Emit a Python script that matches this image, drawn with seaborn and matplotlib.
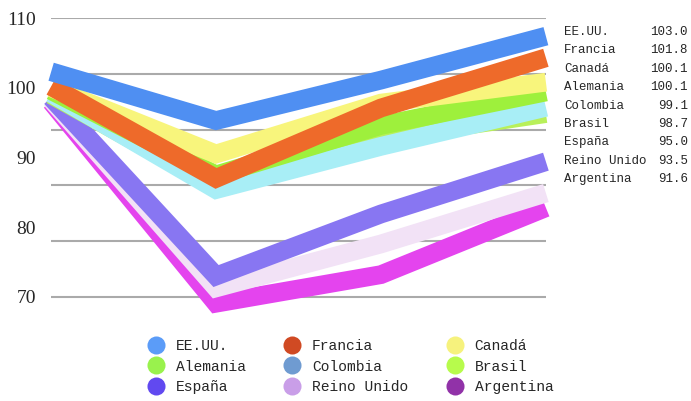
import pandas as pd
import seaborn as sns
import matplotlib.pyplot as plt
from matplotlib.lines import Line2D

countries = ['EE.UU.', 'Francia', 'Canadá', 'Alemania', 'Colombia', 'Brasil',
             'España', 'Reino Unido', 'Argentina']
periods = [0, 1, 2, 3]
ee_uu = [102.3, 95.3, 101.1, 107.4]
francia = [100.2, 87.0, 97.1, 104.3]
canada = [100.0, 90.5, 97.8, 100.8]
alemania = [99.6, 87.5, 94.6, 99.4]
colombia = [99.2, 85.4, 91.6, 97.2]
brasil = [99.0, 85.8, 92.8, 96.3]
espana = [98.6, 73.0, 81.9, 89.4]
reino_unido = [98.3, 71.3, 77.6, 84.9]
argentina = [98.0, 69.1, 73.2, 82.8]
right_values = ['103.0', '101.8', '100.1', '100.1', '99.1', '98.7', '95.0', '93.5', '91.6']

line_colors = ['#4f8ff2', '#ee6a2a', '#f8f57c', '#9ef03c', '#a8eef6', '#b8f05a',
               '#8876f2', '#f2e2f6', '#e444ee']
legend_colors = ['#5b9cf8', '#d04a23', '#f6f27d', '#99f24d', '#6f9bd1', '#b7fb4c',
                 '#6149f0', '#c99ee8', '#9132a8']

series = [ee_uu, francia, canada, alemania, colombia, brasil, espana, reino_unido, argentina]
df = pd.DataFrame([(c, p, v) for c, vals in zip(countries, series) for p, v in zip(periods, vals)],
                  columns=['pais', 'periodo', 'valor'])

sns.set_style('white')
fig = plt.figure(figsize=(6.91, 4.01), dpi=100)
ax = fig.add_axes([0.074, 0.216, 0.716, 0.739])

# draw last series first so EE.UU. sits on top
sns.lineplot(data=df, x='periodo', y='valor', hue='pais', hue_order=countries[::-1],
             palette=dict(zip(countries, line_colors)), linewidth=13.5, legend=False,
             ax=ax, solid_capstyle='butt', solid_joinstyle='miter', clip_on=False)

ax.set_xlim(0, 3)
ax.set_ylim(67.5, 110)
ax.set_yticks([70, 80, 90, 100, 110])
ax.set_yticklabels(['70', '80', '90', '100', '110'], fontsize=14, family='Liberation Serif')
ax.yaxis.remove_overlapping_locs = False
ax.set_yticks([70, 78, 86, 94, 102, 110], minor=True)
ax.tick_params(axis='y', which='both', length=0, pad=11)
ax.set_xticks([])
ax.grid(False)
ax.grid(True, which='minor', axis='y', color='#aaaaaa', linewidth=1.5, zorder=0)
ax.set_axisbelow(True)
ax.set_xlabel('')
ax.set_ylabel('')
for s in ax.spines.values():
    s.set_visible(False)

# right-hand value list
for i, (c, v) in enumerate(zip(countries, right_values)):
    y = 1 - (32 + i * 18.4) / 401
    fig.text(564 / 691, y, c, fontsize=9, family='Liberation Mono', va='center', ha='left')
    fig.text(688 / 691, y, v, fontsize=9, family='Liberation Mono', va='center', ha='right')

# legend, filled column-wise so it reads row-wise
order = [0, 3, 6, 1, 4, 7, 2, 5, 8]
handles = [Line2D([], [], marker='o', linestyle='', markersize=13,
                  markerfacecolor=legend_colors[i], markeredgecolor='none') for i in order]
labels = [countries[i] for i in order]
fig.legend(handles, labels, ncol=3, loc='upper center', bbox_to_anchor=(0.507, 0.18),
           frameon=False, prop={'family': 'Liberation Mono', 'size': 10.5},
           handletextpad=0.75, columnspacing=2.6, labelspacing=0.45, handlelength=1.2,
           borderpad=0.2)

plt.savefig('out.png', dpi=100)
